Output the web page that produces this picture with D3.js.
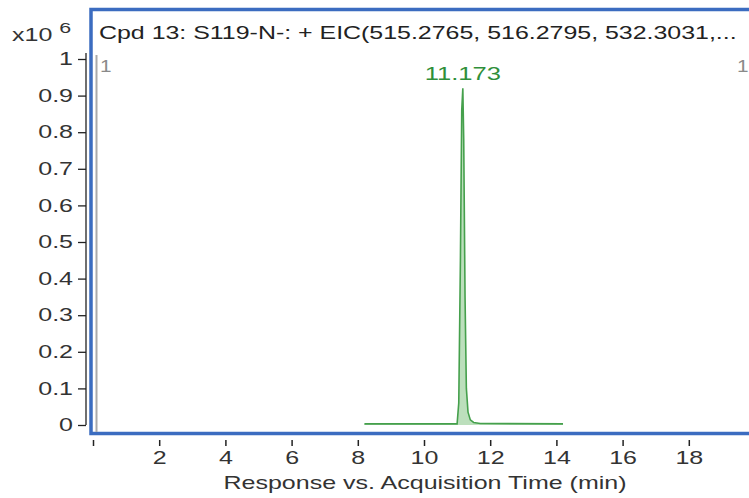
<!DOCTYPE html>
<html><head><meta charset="utf-8">
<script src="https://cdn.jsdelivr.net/npm/d3@7"></script>
<style>body{margin:0;background:#fff;}svg{display:block;font-family:"Liberation Sans",Arial,sans-serif;}</style>
</head><body>
<svg id="c" width="749" height="498"></svg>
<script>
const times = [8.2, 11.0, 11.05, 11.1, 11.14, 11.173, 11.2, 11.24, 11.28, 11.33, 11.4, 11.5, 11.7, 14.2];
const response = [0.003, 0.003, 0.06, 0.45, 0.86, 0.92, 0.78, 0.35, 0.1, 0.035, 0.014, 0.007, 0.004, 0.003];
const yTicks = [0, 0.1, 0.2, 0.3, 0.4, 0.5, 0.6, 0.7, 0.8, 0.9, 1];
const xTicks = [0, 2, 4, 6, 8, 10, 12, 14, 16, 18];
const title = "Cpd 13: S119-N-: + EIC(515.2765, 516.2795, 532.3031,...";
const peakLabel = "11.173";
const xTitle = "Response vs. Acquisition Time (min)";

const SX = 1.43;
const FS = 17.5;
const svg = d3.select("#c");
const x = d3.scaleLinear().domain([0, 20]).range([93, 93 + 33.1 * 20]);
const y = d3.scaleLinear().domain([0, 1]).range([425, 59]);

function stext(px, py, str, opts) {
  const t = svg.append("text")
    .attr("transform", `translate(${px},${py}) scale(${opts.sx || SX},1)`)
    .attr("font-size", opts.fs || FS).attr("fill", opts.fill || "#333")
    .attr("text-anchor", opts.anchor || "start");
  t.text(str);
  return t;
}

// frame
svg.append("rect").attr("x", 91).attr("y", 9.5).attr("width", 700).attr("height", 424)
  .attr("fill", "none").attr("stroke", "#3b6cc0").attr("stroke-width", 3.5);

// gray marker line
svg.append("line").attr("x1", 96.5).attr("x2", 96.5).attr("y1", 55).attr("y2", 432)
  .attr("stroke", "#aaaaaa").attr("stroke-width", 2);
stext(100, 72, "1", {fill: "#8a8a8a", fs: 16, sx: 1.3});
stext(737, 72, "1", {fill: "#8a8a8a", fs: 16, sx: 1.3});

// y axis
const yAxis = svg.append("g").attr("transform", "translate(86,0)")
  .call(d3.axisLeft(y).tickValues(yTicks).tickSize(8).tickPadding(4).tickFormat(d => d3.format("~g")(d)));
yAxis.select(".domain").attr("d", "M0,53V425").attr("stroke", "#222").attr("stroke-width", 1.3);
yAxis.selectAll(".tick line").attr("stroke", "#222").attr("stroke-width", 1.3);
yAxis.selectAll("text").attr("font-size", FS).attr("fill", "#333")
  .attr("font-family", "Liberation Sans, Arial, sans-serif")
  .attr("x", -13 / SX).attr("transform", `scale(${SX},1)`);

// x axis
const xAxis = svg.append("g").attr("transform", "translate(0,440)")
  .call(d3.axisBottom(x).tickValues(xTicks).tickSize(6).tickPadding(6).tickFormat(d => d === 0 ? "" : d));
xAxis.select(".domain").remove();
xAxis.selectAll(".tick line").attr("stroke", "#222").attr("stroke-width", 1.5);
xAxis.selectAll("text").attr("font-size", FS).attr("fill", "#333")
  .attr("font-family", "Liberation Sans, Arial, sans-serif")
  .attr("transform", `scale(${SX},1)`);

// trace
const pts = times.map((t, i) => [t, response[i]]);
svg.append("path").datum(pts)
  .attr("d", d3.area().x(d => x(d[0])).y0(y(0)).y1(d => y(d[1])))
  .attr("fill", "#9fd29f").attr("fill-opacity", 0.7);
svg.append("path").datum(pts)
  .attr("d", d3.line().x(d => x(d[0])).y(d => y(d[1])))
  .attr("fill", "none").attr("stroke", "#45a04c").attr("stroke-width", 1.6);

// peak label
stext(x(11.173), 80, peakLabel, {fill: "#2f8f3a", anchor: "middle", sx: 1.46});

// title & multiplier
stext(99, 39, title, {fill: "#222", sx: 1.425});
const m = stext(12, 41, "", {});
m.append("tspan").text("x10 ");
m.append("tspan").attr("dy", -8).attr("font-size", 15).text("6");

// x title
stext(425, 489, xTitle, {anchor: "middle"});
</script>
</body></html>
